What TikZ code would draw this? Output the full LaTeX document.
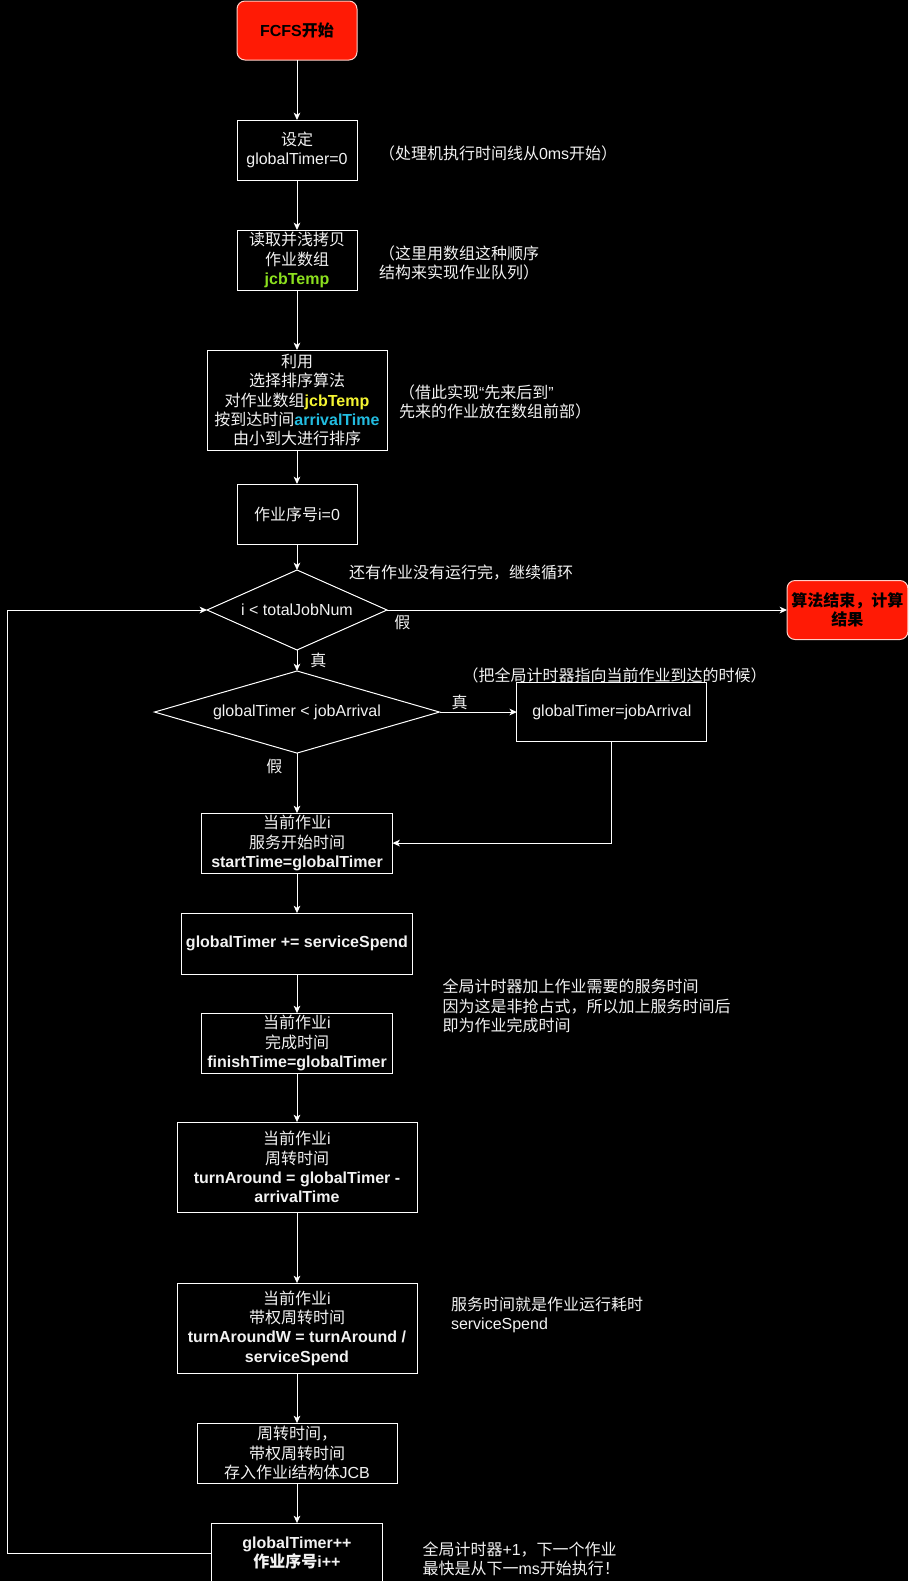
\documentclass[tikz,border=0pt]{standalone}
\usepackage{fontspec}
\setmainfont{Liberation Sans}
\newfontfamily\zhfont{Noto Sans CJK SC}
\usepackage{xcolor}
\usepackage{tikz}
\usetikzlibrary{arrows.meta, positioning, shapes.geometric}
\definecolor{pagebg}{HTML}{000000}
\definecolor{fgtext}{HTML}{F2F2F2}
\definecolor{termred}{HTML}{FF1A05}
\definecolor{termline}{HTML}{FFD0C8}
\definecolor{varlime}{HTML}{8CE01E}
\definecolor{varyellow}{HTML}{F5F532}
\definecolor{varcyan}{HTML}{22BCE0}

% Chinese runs are set in Noto Sans CJK SC
\newXeTeXintercharclass\zhclass
\count255="4E00
\loop
  \XeTeXcharclass\count255=\zhclass
  \advance\count255 by 1
\ifnum\count255<"A000 \repeat
\XeTeXcharclass"FF01=\zhclass
\XeTeXcharclass"FF08=\zhclass
\XeTeXcharclass"FF09=\zhclass
\XeTeXcharclass"FF0C=\zhclass
\XeTeXcharclass"201C=0
\XeTeXcharclass"201D=0
\XeTeXinterchartoks 0 \zhclass = {\begingroup\zhfont}
\XeTeXinterchartoks 4095 \zhclass = {\begingroup\zhfont}
\XeTeXinterchartoks \zhclass 0 = {\endgroup}
\XeTeXinterchartoks \zhclass 4095 = {\endgroup}
\XeTeXinterchartokenstate=1

\begin{document}
\begin{tikzpicture}[
  x=0.75pt, y=-0.75pt,
  every node/.style={font=\fontsize{12pt}{14.5pt}\selectfont, text=fgtext, align=center, outer sep=0pt},
  boldtxt/.style={font=\fontsize{12pt}{14.5pt}\selectfont\bfseries},
  box/.style={draw=white, line width=0.75pt, inner sep=1pt, minimum width=90pt, minimum height=45pt},
  term/.style={draw=termline, line width=0.75pt, fill=termred, text=black, rounded corners=6pt, boldtxt, minimum width=90pt, minimum height=44.25pt},
  cond/.style={draw=white, line width=0.75pt, shape=diamond, inner sep=0pt, aspect=2.5},
  note/.style={align=left, inner sep=0pt},
  lbl/.style={inner sep=0pt},
  arr/.style={-{Stealth[length=5.5pt, width=5pt, inset=1.5pt]}, white, line width=0.75pt}
]
\fill[pagebg] (0,0) rectangle (908,1581);
\useasboundingbox (0,0) rectangle (908,1581);

% Preparation
\node[term] (start) at (297,30.5) {FCFS开始};
\node[box, below=45pt of start] (setT) {设定\\globalTimer=0};
\node[box, below=37.5pt of setT] (copyJ) {读取并浅拷贝\\作业数组\\{\bfseries\color{varlime}jcbTemp}};
\node[box, below=45pt of copyJ, minimum width=135pt, minimum height=75pt] (sortJ) {利用\\选择排序算法\\对作业数组{\bfseries\color{varyellow}jcbTemp}\\按到达时间{\bfseries\color{varcyan}arrivalTime}\\由小到大进行排序};
\node[box, below=25.5pt of sortJ] (initI) {作业序号i=0};

% Loop conditions
\node[cond, below=19.5pt of initI, minimum width=135pt, minimum height=60pt] (loopC) {i < totalJobNum};
\node[cond, below=15.75pt of loopC, minimum width=213.75pt, minimum height=60pt] (arrC) {globalTimer < jobArrival};
\node[term, right=300pt of loopC] (endA) {算法结束，计算\\结果};
\node[box, right=58pt of arrC, minimum width=142.5pt, minimum height=44.25pt] (setA) {globalTimer=jobArrival};

% Per job
\node[box, below=45pt of arrC, minimum width=143.25pt] (stT) {当前作业i\\服务开始时间\\{\bfseries startTime=globalTimer}};
\node[box, below=30pt of stT, minimum width=173.25pt, minimum height=45.75pt, boldtxt] (addS) {globalTimer += serviceSpend};
\node[box, below=29.25pt of addS, minimum width=143.25pt] (finT) {当前作业i\\完成时间\\{\bfseries finishTime=globalTimer}};
\node[box, below=36.75pt of finT, minimum width=180pt, minimum height=67.5pt] (turnA) {当前作业i\\周转时间\\{\bfseries turnAround = globalTimer -}\\{\bfseries arrivalTime}};
\node[box, below=53.25pt of turnA, minimum width=180pt, minimum height=67.5pt] (turnW) {当前作业i\\带权周转时间\\{\bfseries turnAroundW = turnAround /}\\{\bfseries serviceSpend}};
\node[box, below=37.5pt of turnW, minimum width=150pt] (saveJ) {周转时间，\\带权周转时间\\存入作业i结构体JCB};
\node[box, below=30pt of saveJ, minimum width=128.25pt, boldtxt] (incT) {globalTimer++\\作业序号i++};
\coordinate (loopX) at (7.5,0);

% Notes
\node[note, right=16.5pt of setT, yshift=-2.25pt] (n0) {（处理机执行时间线从0ms开始）};
\node[note, right=16.5pt of copyJ, yshift=-2pt] (n1) {（这里用数组这种顺序\\结构来实现作业队列）};
\node[note, right=9pt of sortJ, yshift=-1.5pt] (n2) {（借此实现“先来后到”\\先来的作业放在数组前部）};
\node[note, right=39pt of loopC.north, yshift=-2.25pt] (n3) {还有作业没有运行完，继续循环};
\node[note, above=0pt of setA, xshift=2pt] (n4) {（把全局计时器指向当前作业到达的时候）};
\node[note, below right=3.75pt and 22.5pt of addS.south east] (n5) {全局计时器加上作业需要的服务时间\\因为这是非抢占式，所以加上服务时间后\\即为作业完成时间};
\node[note, right=25.5pt of turnW, yshift=9.75pt] (n6) {服务时间就是作业运行耗时\\serviceSpend};
\node[note, right=30pt of incT, yshift=-4.5pt] (n7) {全局计时器+1，下一个作业\\最快是从下一ms开始执行！};

% Connectors
\draw[arr] (start) -- (setT);
\draw[arr] (setT) -- (copyJ);
\draw[arr] (copyJ) -- (sortJ);
\draw[arr] (sortJ) -- (initI);
\draw[arr] (initI) -- (loopC);
\draw[arr] (loopC) -- node[lbl, right=10pt] {真} (arrC);
\draw[arr] (loopC) -- node[lbl, pos=0, below right=4pt and 5.5pt] {假} (endA);
\draw[arr] (arrC) -- node[lbl, pos=0.26, above=1.5pt] {真} (setA);
\draw[arr] (arrC) -- node[lbl, pos=0.22, left=11pt] {假} (stT);
\draw[arr] (setA) |- (stT);
\draw[arr] (stT) -- (addS);
\draw[arr] (addS) -- (finT);
\draw[arr] (finT) -- (turnA);
\draw[arr] (turnA) -- (turnW);
\draw[arr] (turnW) -- (saveJ);
\draw[arr] (saveJ) -- (incT);
\draw[arr] (incT) -- (incT -| loopX) |- (loopC);

\end{tikzpicture}
\end{document}
